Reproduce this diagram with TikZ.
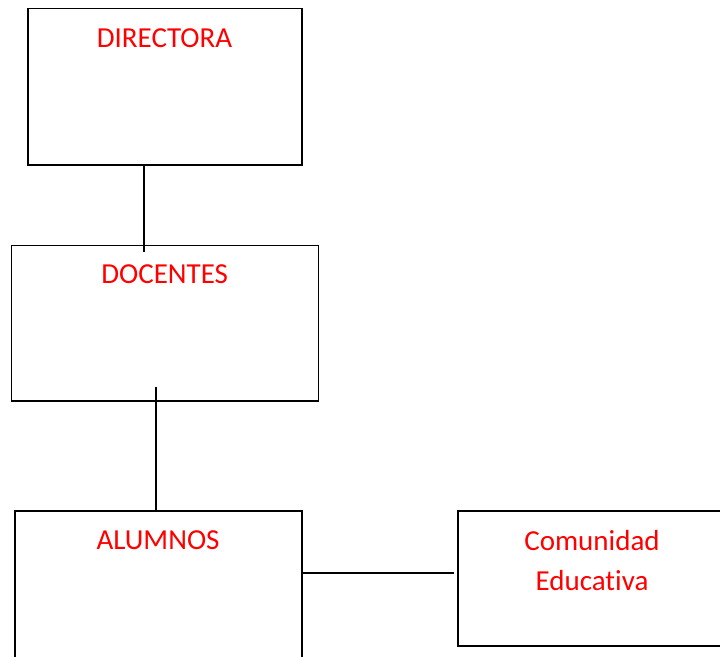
\documentclass[tikz,border=0pt]{standalone}
\usepackage{fontspec}
\setmainfont{Carlito}[Ligatures={NoCommon}]
\begin{document}
\begin{tikzpicture}[x=1pt,y=-1pt,
  box/.style={draw=black,line width=1.8pt,rectangle,inner sep=0pt,outer sep=0pt},
  lbl/.style={text=red,font=\fontsize{29}{34}\selectfont,anchor=base,inner sep=0pt},
  conn/.style={draw=black,line width=1.8pt}]
\useasboundingbox (0,0) rectangle (720,656);
\clip (0,0) rectangle (720,656);
\node[box,minimum width=274pt,minimum height=156.5pt] (dir) at (165,86.75) {};
\node[box,minimum width=307pt,minimum height=155.5pt] (doc) at (165,323.25) {};
\node[box,minimum width=287pt,minimum height=159pt] (alu) at (158.5,590.5) {};
\node[box,minimum width=272pt,minimum height=134.7pt] (com) at (594,578.35) {};
\node[lbl] (tdir) at (164.5,47) {DIRECTORA};
\node[lbl] (tdoc) at (164.7,283.3) {DOCENTES};
\node[lbl] (talu) at (158,549) {ALUMNOS};
\node[lbl] (tcom1) at (592,550) {Comunidad};
\node[lbl] (tcom2) at (592,590.5) {Educativa};
\coordinate (c1) at (144,252);
\coordinate (c2) at (156,387);
\coordinate (c3) at (453.5,573);
\draw[conn] (dir.south -| c1) -- (c1);
\draw[conn] (c2) -- (alu.north -| c2);
\draw[conn] (alu.east |- c3) -- (c3);
\end{tikzpicture}
\end{document}
